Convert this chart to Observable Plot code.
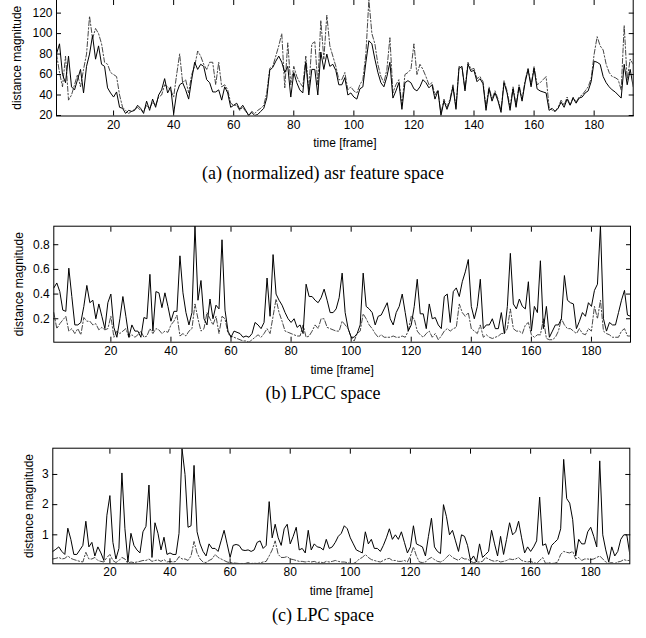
<!DOCTYPE html>
<html><head><meta charset="utf-8">
<script src="https://cdn.jsdelivr.net/npm/d3@7"></script>
<script src="https://cdn.jsdelivr.net/npm/@observablehq/plot@0.6"></script>
<style>
body{margin:0;background:#fff}
#wrap{position:relative;width:646px;height:638px;overflow:hidden;background:#fff}
.panel{position:absolute;left:0}
.cap{position:absolute;left:0;width:646px;text-align:center;font-family:"Liberation Serif","Times New Roman",serif;font-size:18px;line-height:20px;color:#000}
</style></head>
<body><div id="wrap"></div>
<script>
// frame index (time [frame])
const frames = d3.range(1, 194);
const xTicks = [20, 40, 60, 80, 100, 120, 140, 160, 180];

// (a) normalized asr feature space
const asrSolid = [
80,90,60,52,78,48,45,55,65,42,
68,80,98,75,88,70,68,47,42,38,
43,28,27,22,25,24,25,30,27,22,
34,25,36,28,40,45,56,42,48,22,
42,50,52,45,36,55,72,65,70,68,
55,52,43,43,45,35,48,42,28,30,
32,26,30,25,20,23,20,21,24,27,
37,64,67,73,78,72,62,68,38,62,
52,45,42,72,40,65,65,40,82,65,
80,68,70,64,50,50,57,40,42,38,
36,46,48,72,93,90,75,62,52,48,
58,72,37,44,52,26,52,54,52,46,
44,48,55,52,47,50,36,44,20,34,
26,34,48,26,66,68,44,70,63,64,
53,56,51,25,46,34,42,34,23,52,
42,25,46,28,48,34,52,65,48,66,
46,44,43,42,25,27,24,27,33,28,
36,30,37,32,37,38,42,44,53,73,
72,70,58,52,48,45,43,40,37,70,
50,65,48];
const asrDash = [
80,62,48,78,35,40,50,60,48,65,
80,117,95,105,100,90,72,70,62,60,
58,40,28,25,22,24,26,28,25,24,
30,27,33,30,38,40,50,48,45,38,
60,80,52,55,42,60,68,83,78,70,
65,72,72,50,72,48,50,45,32,30,
30,25,28,24,20,24,22,25,27,30,
42,66,68,78,88,100,47,91,50,68,
58,52,48,78,45,90,92,50,113,75,
118,88,78,68,55,55,62,45,48,44,
42,50,55,80,133,100,90,70,58,52,
65,96,42,50,55,30,60,62,65,90,
60,70,65,58,50,52,40,45,22,36,
28,36,50,28,68,66,46,72,65,66,
56,58,53,28,48,36,44,36,25,54,
44,28,48,30,50,36,54,66,50,68,
50,52,55,58,28,25,24,28,35,30,
38,30,38,33,38,40,44,48,56,80,
97,88,84,70,62,58,57,55,45,108,
55,75,70];

// (b) LPCC space
const lpccSolid = [
0.45,0.49,0.42,0.27,0.26,0.61,0.38,0.15,0.15,0.17,
0.30,0.47,0.33,0.35,0.20,0.32,0.22,0.12,0.33,0.40,
0.13,0.05,0.20,0.38,0.22,0.05,0.15,0.10,0.10,0.05,
0.21,0.20,0.56,0.10,0.42,0.41,0.29,0.41,0.30,0.18,
0.26,0.26,0.71,0.41,0.25,0.15,0.25,0.95,0.35,0.51,
0.20,0.15,0.36,0.20,0.31,0.28,0.84,0.27,0.10,0.05,
0.10,0.09,0.08,0.05,0.06,0.05,0.08,0.17,0.15,0.12,
0.17,0.53,0.22,0.72,0.40,0.35,0.31,0.25,0.20,0.17,
0.20,0.13,0.15,0.08,0.48,0.38,0.38,0.35,0.33,0.37,
0.44,0.35,0.25,0.25,0.28,0.37,0.57,0.25,0.12,0.05,
0.05,0.08,0.15,0.57,0.30,0.28,0.25,0.15,0.22,0.23,
0.28,0.33,0.20,0.15,0.25,0.30,0.40,0.25,0.10,0.15,
0.30,0.52,0.24,0.24,0.12,0.32,0.20,0.21,0.15,0.12,
0.38,0.40,0.17,0.42,0.45,0.38,0.50,0.58,0.68,0.30,
0.20,0.30,0.52,0.12,0.15,0.15,0.20,0.12,0.12,0.25,
0.08,0.30,0.73,0.32,0.28,0.36,0.30,0.28,0.50,0.10,
0.30,0.25,0.67,0.12,0.30,0.05,0.10,0.15,0.15,0.20,
0.55,0.35,0.33,0.32,0.12,0.18,0.25,0.22,0.33,0.30,
0.43,0.48,0.95,0.20,0.10,0.17,0.15,0.15,0.25,0.35,
0.43,0.23,0.22];
const lpccDash = [
0.25,0.12,0.16,0.19,0.22,0.10,0.12,0.08,0.12,0.07,
0.21,0.18,0.18,0.15,0.16,0.11,0.13,0.11,0.12,0.22,
0.05,0.10,0.08,0.10,0.12,0.05,0.07,0.05,0.07,0.10,
0.05,0.06,0.12,0.08,0.12,0.11,0.08,0.10,0.09,0.15,
0.18,0.23,0.06,0.08,0.06,0.10,0.12,0.32,0.20,0.10,
0.12,0.25,0.20,0.15,0.22,0.08,0.22,0.20,0.08,0.06,
0.05,0.04,0.03,0.02,0.02,0.01,0.03,0.05,0.07,0.05,
0.08,0.12,0.08,0.22,0.36,0.25,0.18,0.10,0.09,0.08,
0.07,0.06,0.06,0.15,0.05,0.06,0.10,0.15,0.12,0.20,
0.20,0.13,0.12,0.11,0.10,0.10,0.18,0.15,0.12,0.05,
0.02,0.08,0.10,0.24,0.20,0.15,0.12,0.08,0.05,0.07,
0.05,0.05,0.05,0.06,0.05,0.05,0.06,0.05,0.10,0.22,
0.20,0.10,0.07,0.05,0.08,0.10,0.05,0.08,0.03,0.06,
0.10,0.12,0.10,0.12,0.13,0.32,0.25,0.22,0.25,0.12,
0.10,0.08,0.15,0.05,0.07,0.05,0.04,0.05,0.06,0.08,
0.08,0.12,0.28,0.12,0.10,0.10,0.08,0.15,0.17,0.07,
0.05,0.07,0.07,0.20,0.04,0.03,0.03,0.05,0.10,0.20,
0.15,0.12,0.12,0.10,0.08,0.12,0.08,0.07,0.12,0.10,
0.30,0.20,0.35,0.10,0.08,0.07,0.05,0.05,0.05,0.10,
0.12,0.06,0.06];

// (c) LPC space
const lpcSolid = [
0.45,0.52,0.60,0.45,0.35,1.22,0.85,0.35,0.35,0.50,
0.65,1.45,0.60,0.75,0.30,0.60,0.40,0.15,1.65,2.30,
0.75,0.20,0.55,3.05,1.20,0.10,1.05,0.65,0.50,0.40,
1.10,1.28,2.65,0.25,1.40,1.05,0.50,0.92,0.35,0.40,
0.35,0.35,1.05,3.85,3.00,1.25,1.30,3.30,1.10,0.70,
0.45,0.30,0.70,0.55,0.55,0.45,0.80,1.15,0.70,0.25,
0.65,0.68,0.65,0.50,0.48,0.50,0.45,0.50,0.75,0.80,
0.55,0.65,2.10,0.90,1.35,0.90,0.65,1.20,1.35,0.70,
0.95,1.25,0.50,0.55,0.40,1.15,0.50,0.70,0.60,0.58,
0.50,0.85,0.55,0.60,0.75,0.95,1.05,1.30,1.20,0.90,
0.70,0.50,0.45,0.40,1.10,0.70,0.85,0.55,0.55,0.45,
0.65,0.90,1.20,0.85,1.00,0.85,1.10,0.75,0.40,0.60,
1.30,0.70,0.65,0.60,0.30,0.95,1.55,0.60,0.45,0.38,
2.00,1.60,1.00,1.15,0.80,0.45,1.00,0.95,0.65,0.15,
0.30,0.10,0.70,0.25,0.35,0.45,1.15,0.70,0.30,0.95,
0.35,0.85,1.40,1.00,1.10,1.45,0.90,0.40,0.60,0.45,
0.60,0.80,2.25,0.65,0.70,0.35,0.65,0.75,0.85,1.20,
3.50,2.20,2.05,1.50,0.30,0.85,0.70,0.70,1.10,1.25,
0.95,0.60,3.45,1.00,0.50,0.10,0.60,0.30,0.45,0.85,
1.00,1.00,0.35];
const lpcDash = [
0.20,0.22,0.25,0.20,0.22,0.30,0.22,0.18,0.15,0.12,
0.10,0.42,0.20,0.20,0.25,0.15,0.12,0.10,0.25,0.35,
0.15,0.08,0.15,0.25,0.20,0.05,0.10,0.08,0.10,0.12,
0.15,0.15,0.20,0.12,0.15,0.17,0.12,0.18,0.10,0.12,
0.10,0.12,0.28,0.20,0.20,0.15,0.30,0.78,0.40,0.20,
0.10,0.08,0.15,0.20,0.35,0.25,0.20,0.15,0.10,0.08,
0.07,0.06,0.05,0.05,0.05,0.08,0.05,0.06,0.05,0.07,
0.10,0.12,0.30,0.50,0.80,0.35,0.25,0.25,0.28,0.20,
0.18,0.15,0.12,0.12,0.10,0.12,0.10,0.12,0.08,0.10,
0.07,0.12,0.10,0.12,0.15,0.12,0.10,0.10,0.08,0.05,
0.05,0.10,0.20,0.25,0.35,0.25,0.18,0.15,0.12,0.10,
0.15,0.20,0.22,0.15,0.15,0.12,0.12,0.15,0.10,0.30,
0.60,0.30,0.10,0.08,0.10,0.20,0.25,0.18,0.12,0.10,
0.15,0.25,0.35,0.25,0.20,0.15,0.25,0.20,0.20,0.12,
0.08,0.10,0.10,0.12,0.25,0.20,0.15,0.12,0.15,0.10,
0.12,0.15,0.20,0.18,0.20,0.25,0.15,0.12,0.10,0.12,
0.08,0.05,0.15,0.25,0.05,0.08,0.05,0.06,0.10,0.35,
0.45,0.42,0.40,0.45,0.20,0.25,0.15,0.20,0.20,0.18,
0.20,0.25,0.30,0.20,0.10,0.06,0.08,0.05,0.10,0.12,
0.18,0.15,0.15];

const panels = [
  {solid: asrSolid, dash: asrDash, yDomain: [19.5, 133.3], yTicks: [20,40,60,80,100,120], fmt: d3.format("d"),
   svgTop: -2, frameTop: -1, frameBottom: 115.5, left: 56, right: 632.7, labelDx: -39.3, height: 160,
   caption: "(a) (normalized) asr feature space", capY: 173},
  {solid: lpccSolid, dash: lpccDash, yDomain: [0.01, 0.95], yTicks: [0.2,0.4,0.6,0.8], fmt: d3.format(".1f"),
   svgTop: 195, frameTop: 225.7, frameBottom: 341.7, left: 53.3, right: 630, labelDx: -34.6, height: 185,
   caption: "(b) LPCC space", capY: 393},
  {solid: lpcSolid, dash: lpcDash, yDomain: [0.04, 3.87], yTicks: [1,2,3], fmt: d3.format("d"),
   svgTop: 420, frameTop: 447.7, frameBottom: 563.3, left: 52.3, right: 629.3, labelDx: -23.3, height: 180,
   caption: "(c) LPC space", capY: 615}
];

const wrap = document.getElementById("wrap");
for (const p of panels) {
  const data = frames.map((f, i) => ({f, s: p.solid[i], d: p.dash[i]}));
  const chart = Plot.plot({
    width: 646,
    height: p.height,
    marginTop: p.frameTop - p.svgTop,
    marginBottom: p.svgTop + p.height - p.frameBottom,
    marginLeft: p.left,
    marginRight: 646 - p.right,
    style: {fontFamily: "'Liberation Sans', Arial, Helvetica, sans-serif", fontSize: "12px", background: "transparent", color: "black", overflow: "visible"},
    x: {domain: [1, 193], label: null},
    y: {domain: p.yDomain, label: null},
    marks: [
      Plot.line(data, {x: "f", y: "d", stroke: "#333", strokeWidth: 0.9, strokeDasharray: "5,2,1.5,2", clip: true}),
      Plot.line(data, {x: "f", y: "s", stroke: "black", strokeWidth: 1, clip: true}),
      Plot.frame({stroke: "black", strokeWidth: 1}),
      Plot.axisX({anchor: "bottom", ticks: xTicks, tickSize: -5, tickFormat: () => "", label: null}),
      Plot.axisX({anchor: "top", ticks: xTicks, tickSize: -5, tickFormat: () => "", label: null}),
      Plot.axisX({anchor: "bottom", ticks: xTicks, tickSize: 0, tickPadding: 4, label: null, fontSize: 12}),
      Plot.axisY({anchor: "left", ticks: p.yTicks, tickSize: -5, tickFormat: () => "", label: null}),
      Plot.axisY({anchor: "right", ticks: p.yTicks, tickSize: -5, tickFormat: () => "", label: null}),
      Plot.axisY({anchor: "left", ticks: p.yTicks, tickSize: 0, tickPadding: 4, tickFormat: p.fmt, label: null, fontSize: 12}),
      Plot.text(["distance magnitude"], {frameAnchor: "left", dx: p.labelDx, rotate: -90, text: d => d, fontSize: 12, textAnchor: "middle", lineAnchor: "middle"}),
      Plot.text(["time [frame]"], {frameAnchor: "bottom", dy: 27.5, text: d => d, fontSize: 12, lineAnchor: "middle"})
    ]
  });
  chart.classList.add("panel");
  chart.style.top = p.svgTop + "px";
  wrap.appendChild(chart);
}
for (const p of panels) {
  const c = document.createElement("div");
  c.className = "cap";
  c.style.top = (p.capY - 10) + "px";
  c.textContent = p.caption;
  wrap.appendChild(c);
}
</script>
</body></html>
